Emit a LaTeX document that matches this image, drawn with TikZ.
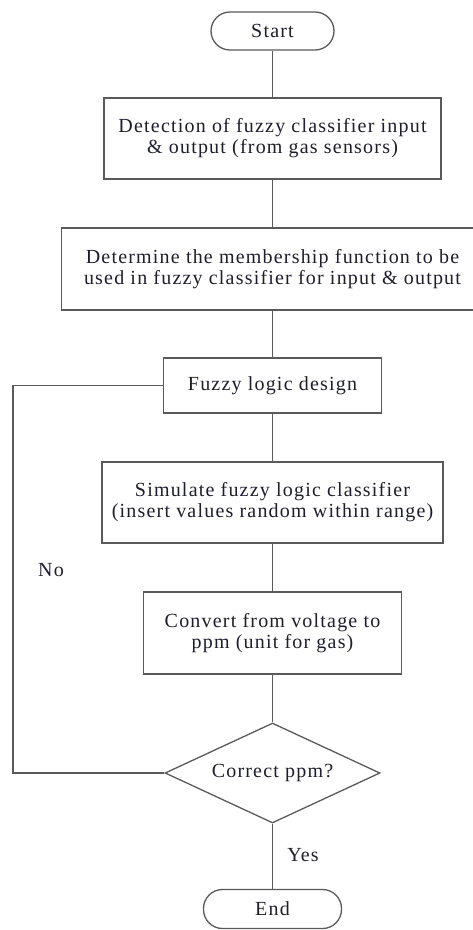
\documentclass[tikz,border=0pt]{standalone}
\usepackage{fontspec}
\setmainfont{Liberation Serif}[LetterSpace=6]
\usetikzlibrary{shapes.geometric}
\definecolor{ln}{RGB}{90,90,90}
\definecolor{tx}{RGB}{30,30,45}
\begin{document}
\begin{tikzpicture}[x=1pt,y=-1pt,
  line width=1.3pt, draw=ln,
  base/.style={draw=ln, text=tx, inner sep=0pt, align=center,
    font=\fontsize{20}{21}\selectfont},
  term/.style={base, rectangle, rounded corners=19pt},
  proc/.style={base, rectangle},
  dec/.style={base, diamond},
  lbl/.style={text=tx, inner sep=0pt, font=\fontsize{20}{21}\selectfont}]
\useasboundingbox (0,0) rectangle (473,930);
\clip (0,0) rectangle (473,930);
\node[term, minimum width=123, minimum height=38] (start) at (272.5,31) {Start};
\node[proc, minimum width=337, minimum height=81] (b1) at (272.5,138.5)
  {Detection of fuzzy classifier input\\\& output (from gas sensors)};
\node[proc, minimum width=422, minimum height=82] (b2) at (272.5,269)
  {Determine the membership function to be\\used in fuzzy classifier for input \& output};
\node[proc, minimum width=218, minimum height=55] (b3) at (272.5,385.5)
  {Fuzzy logic design};
\node[proc, minimum width=341, minimum height=81] (b4) at (272.5,502.5)
  {Simulate fuzzy logic classifier\\(insert values random within range)};
\node[proc, minimum width=258, minimum height=82] (b5) at (272.5,633)
  {Convert from voltage to\\ppm (unit for gas)};
\node[dec, minimum width=215, minimum height=100] (d) at (272.5,773)
  {\makebox[0pt]{Correct ppm?}};
\node[term, minimum width=138, minimum height=39] (end) at (272.5,909) {End};
\coordinate (lp) at (13,773);
\node[lbl] (no) at (51,570) {No};
\node[lbl] (yes) at (303,855) {Yes};
\draw (start) -- (b1);
\draw (b1) -- (b2);
\draw (b2) -- (b3);
\draw (b3) -- (b4);
\draw (b4) -- (b5);
\draw (b5) -- (d);
\draw (d) -- (end);
\draw (d.west) -- (lp) |- (b3.west);
\end{tikzpicture}
\end{document}
